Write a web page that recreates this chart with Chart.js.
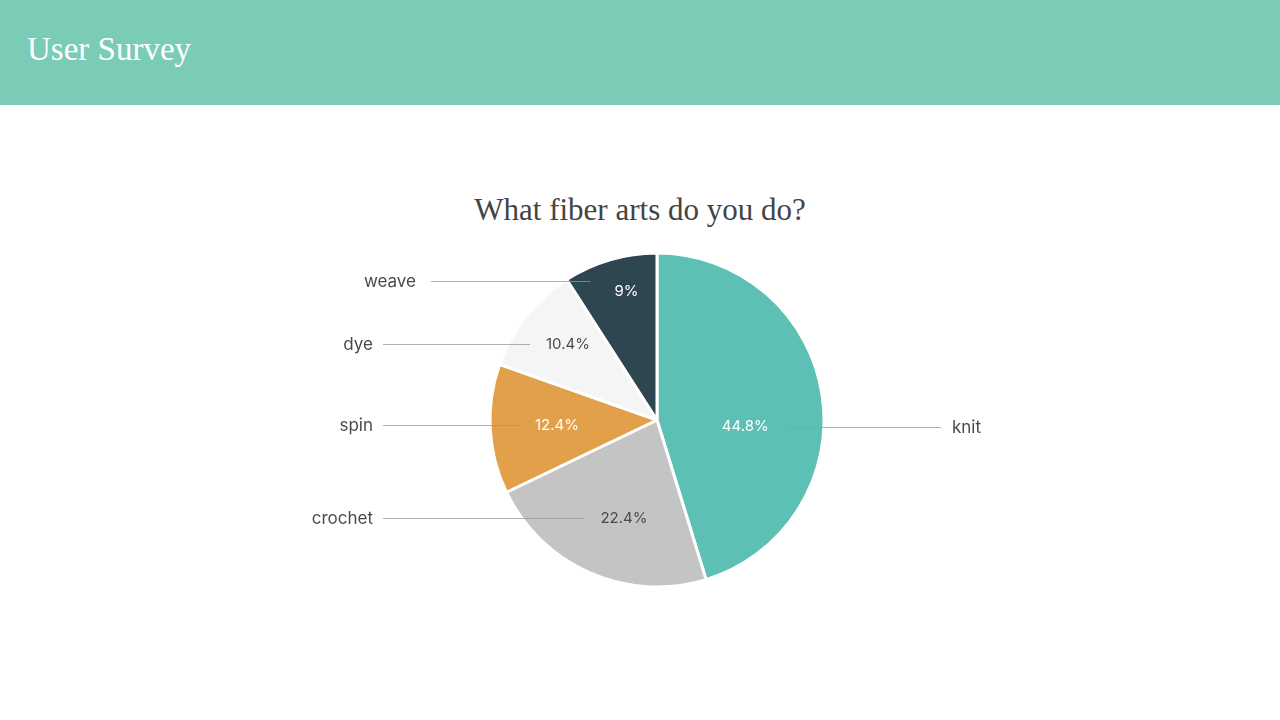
<!DOCTYPE html>
<html>
<head>
<meta charset="utf-8">
<script src="https://cdn.jsdelivr.net/npm/chart.js@4.4.1/dist/chart.umd.min.js"></script>
<style>
  html, body { margin: 0; padding: 0; width: 1280px; height: 720px; background: #ffffff; overflow: hidden; }
  #header { position: absolute; left: 0; top: 0; width: 1280px; height: 105px; background: #7BCCB6; }
  #header h1 { position: absolute; left: 27px; top: 27px; margin: 0; font-family: "Liberation Serif", "DejaVu Serif", serif; font-weight: normal; font-size: 33px; line-height: 44px; color: #ffffff; }
  #title { position: absolute; left: 0; top: 190px; width: 1280px; text-align: center; margin: 0; font-family: "Liberation Serif", "DejaVu Serif", serif; font-weight: normal; font-size: 31px; line-height: 40px; color: #444444; }
  #wrap { position: absolute; left: 0; top: 105px; width: 1280px; height: 615px; }
</style>
</head>
<body>
<div id="header"><h1>User Survey</h1></div>
<div id="title">What fiber arts do you do?</div>
<div id="wrap"><canvas id="c"></canvas></div>
<script>
const categories = ["knit", "crochet", "spin", "dye", "weave"];
const values = [44.8, 22.4, 12.4, 10.4, 9];
const percentLabels = ["44.8%", "22.4%", "12.4%", "10.4%", "9%"];
const sliceColors = ["#5CC1B4", "#C4C4C4", "#E3A04B", "#F5F5F5", "#2E4650"];
const percentColors = ["#ffffff", "#4a4a4a", "#ffffff", "#4a4a4a", "#ffffff"];

// label placement tuning (fraction of radius, angle shift in degrees, leader reach, leader dy)
const labelRadius = [0.53, 0.62, 0.60, 0.70, 0.79];
const labelShift = [13, -5, 0, 2, 3];
const leaderReach = [284, 274, 274, 274, 226];
const leaderDy = [0, 0, 0, 0, -11];

const leaderPlugin = {
  id: 'leaderLabels',
  afterDatasetsDraw(chart) {
    const ctx = chart.ctx;
    const meta = chart.getDatasetMeta(0);
    ctx.save();
    meta.data.forEach((arc, i) => {
      const p = arc.getProps(['x', 'y', 'startAngle', 'endAngle', 'outerRadius'], true);
      const mid = (p.startAngle + p.endAngle) / 2 + labelShift[i] * Math.PI / 180;
      const rr = p.outerRadius * labelRadius[i];
      const lx = p.x + Math.cos(mid) * rr;
      const ly = p.y + Math.sin(mid) * rr;
      ctx.font = '15px Inter, "Noto Sans", sans-serif';
      const tw = ctx.measureText(percentLabels[i]).width;
      const right = lx >= p.x + 40;
      const lineY = Math.round(ly + leaderDy[i]) + 0.5;
      ctx.strokeStyle = 'rgba(150,150,150,0.75)';
      ctx.lineWidth = 1;
      ctx.beginPath();
      let outerX;
      if (right) {
        outerX = p.x + leaderReach[i];
        ctx.moveTo(lx + tw / 2 + 20, lineY);
        ctx.lineTo(outerX, lineY);
      } else {
        outerX = p.x - leaderReach[i];
        const gap = leaderDy[i] !== 0 ? 24 : 16;
        ctx.moveTo(outerX, lineY);
        ctx.lineTo(lx - tw / 2 - gap, lineY);
      }
      ctx.stroke();
      // percent label
      ctx.fillStyle = percentColors[i];
      ctx.textAlign = 'center';
      ctx.textBaseline = 'middle';
      ctx.fillText(percentLabels[i], lx, ly);
      // category label
      ctx.font = '17px Inter, "Noto Sans", sans-serif';
      ctx.fillStyle = '#4a4a4a';
      if (right) {
        ctx.textAlign = 'left';
        ctx.fillText(categories[i], outerX + 11, lineY);
      } else {
        ctx.textAlign = 'right';
        ctx.fillText(categories[i], outerX - (leaderDy[i] !== 0 ? 15 : 10), lineY);
      }
    });
    ctx.restore();
  }
};

new Chart(document.getElementById('c'), {
  type: 'pie',
  data: {
    labels: categories,
    datasets: [{
      data: values,
      backgroundColor: sliceColors,
      borderColor: '#ffffff',
      borderWidth: 3,
      hoverOffset: 0
    }]
  },
  options: {
    responsive: true,
    maintainAspectRatio: false,
    animation: false,
    radius: 167,
    layout: { padding: { left: 34, right: 0, top: 100, bottom: 85 } },
    plugins: {
      legend: { display: false },
      tooltip: { enabled: false },
      title: { display: false }
    }
  },
  plugins: [leaderPlugin]
});
</script>
</body>
</html>
